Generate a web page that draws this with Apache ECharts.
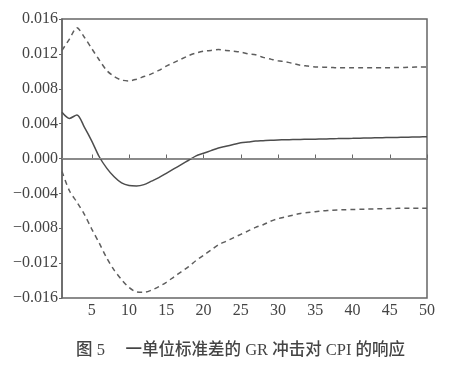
<!DOCTYPE html>
<html>
<head>
<meta charset="utf-8">
<script src="https://cdn.jsdelivr.net/npm/echarts@6/dist/echarts.min.js"></script>
<style>html,body{margin:0;padding:0;background:#fff}#c{width:450px;height:373px}</style>
</head>
<body>
<div id="c"></div>
<script>
const periods = Array.from({length: 50}, (_, i) => i + 1);
const response = [0.0053, 0.0046, 0.0050, 0.0036, 0.0020, 0.0002, -0.0011, -0.0021, -0.0028, -0.0031,
  -0.00315, -0.0030, -0.0026, -0.0022, -0.0017, -0.0012, -0.0007, -0.0002, 0.0003, 0.0006,
  0.0009, 0.0012, 0.0014, 0.0016, 0.0018, 0.0019, 0.0020, 0.00205, 0.0021, 0.00213,
  0.00215, 0.00217, 0.00219, 0.0022, 0.00222, 0.00224, 0.00226, 0.00228, 0.0023, 0.00231,
  0.00233, 0.00235, 0.00237, 0.00239, 0.0024, 0.00242, 0.00244, 0.00246, 0.00248, 0.0025];
const upper = [0.0124, 0.0137, 0.0150, 0.0139, 0.0126, 0.0113, 0.0101, 0.0094, 0.0090, 0.0089,
  0.0091, 0.0094, 0.0097, 0.0101, 0.0106, 0.0110, 0.0114, 0.0118, 0.0121, 0.0123,
  0.0124, 0.0125, 0.0124, 0.0123, 0.0122, 0.0120, 0.0119, 0.0116, 0.0114, 0.0112,
  0.0111, 0.0109, 0.0107, 0.0106, 0.0105, 0.01048, 0.01045, 0.0104, 0.0104, 0.0104,
  0.0104, 0.0104, 0.0104, 0.0104, 0.0104, 0.01045, 0.01045, 0.01048, 0.01049, 0.0105];
const lower = [-0.0015, -0.0037, -0.0050, -0.0064, -0.0081, -0.0097, -0.0114, -0.0128, -0.0139, -0.0148,
  -0.0153, -0.01535, -0.0151, -0.0147, -0.0142, -0.0136, -0.0130, -0.0124, -0.0117, -0.0111,
  -0.0105, -0.0099, -0.0095, -0.0091, -0.0087, -0.0083, -0.0079, -0.0076, -0.0072, -0.0069,
  -0.0067, -0.0065, -0.0063, -0.0062, -0.0061, -0.0060, -0.00595, -0.0059, -0.00588, -0.00585,
  -0.00583, -0.0058, -0.00578, -0.00576, -0.00574, -0.00572, -0.0057, -0.0057, -0.0057, -0.0057];
const xTicks = [5, 10, 15, 20, 25, 30, 35, 40, 45, 50];
const yMin = -0.016, yMax = 0.016, yStep = 0.004;
const caption = '图 5　 一单位标准差的 GR 冲击对 CPI 的响应';

const pair = arr => periods.map((p, i) => [p, arr[i]]);
const axisColor = '#666';
const textColor = '#444';
const serif = '"Liberation Serif", "Noto Sans CJK SC", serif';

const chart = echarts.init(document.getElementById('c'));
chart.setOption({
  animation: false,
  backgroundColor: '#fff',
  title: {
    text: caption, left: 71, top: 337,
    textStyle: {fontFamily: serif, fontSize: 16.5, fontWeight: 500, color: '#444'}
  },
  grid: {left: 62, right: 23, top: 19, bottom: 75, show: true, borderColor: axisColor, borderWidth: 1.5},
  xAxis: {
    type: 'value', min: 1, max: 50,
    axisLine: {show: true, lineStyle: {color: axisColor, width: 1.5}},
    axisTick: {show: true, inside: true, length: 4, customValues: xTicks, lineStyle: {color: axisColor}},
    axisLabel: {customValues: xTicks, margin: 5, fontFamily: serif, fontSize: 16, color: textColor},
    splitLine: {show: false}
  },
  yAxis: {
    type: 'value', min: yMin, max: yMax, interval: yStep,
    axisLine: {show: true, lineStyle: {color: axisColor, width: 1.5}},
    axisTick: {show: true, inside: false, length: 3, lineStyle: {color: axisColor}},
    axisLabel: {
      margin: 4, fontFamily: serif, fontSize: 16, color: textColor,
      formatter: v => { const r = Math.round(v * 1000) / 1000; return (Math.abs(r) < 1e-9 ? 0 : r).toFixed(3).replace('-', '\u2212'); }
    },
    splitLine: {show: false}
  },
  series: [
    {
      type: 'line', data: pair(response), showSymbol: false, symbol: 'none', smooth: 0.3,
      lineStyle: {color: '#4d4d4d', width: 1.5, type: 'solid'},
      markLine: {
        silent: true, symbol: 'none', label: {show: false},
        lineStyle: {color: '#8a8a8a', width: 1, type: 'solid'},
        data: [{yAxis: 0}]
      }
    },
    {
      type: 'line', data: pair(upper), showSymbol: false, symbol: 'none', smooth: 0.3,
      lineStyle: {color: '#5e5e5e', width: 1.5, type: [5, 4]}
    },
    {
      type: 'line', data: pair(lower), showSymbol: false, symbol: 'none', smooth: 0.3,
      lineStyle: {color: '#5e5e5e', width: 1.5, type: [5, 4]}
    }
  ]
});
</script>
</body>
</html>
